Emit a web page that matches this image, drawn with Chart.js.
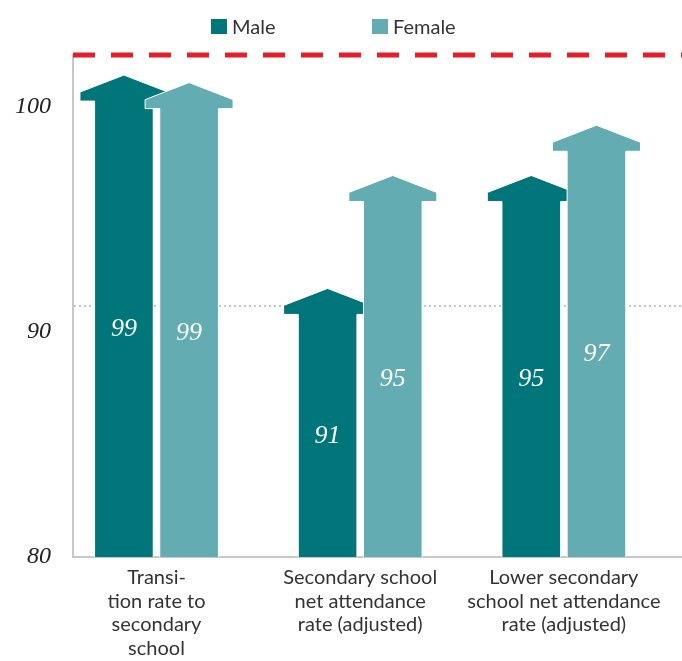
<!DOCTYPE html>
<html>
<head>
<meta charset="utf-8">
<script src="https://cdn.jsdelivr.net/npm/chart.js@4"></script>
<style>
  html, body { margin: 0; padding: 0; background: #fff; }
  #wrap { position: relative; width: 682px; height: 661px; }
  #legend {
    position: absolute; top: 14px; left: 211px;
    display: flex; font: 20px Lato, sans-serif; color: #333; line-height: 24px;
  }
  .item { display: flex; align-items: center; width: 161px; }
  .box { width: 16px; height: 15px; margin-right: 5px; }
</style>
</head>
<body>
<div id="wrap">
  <canvas id="chart" width="682" height="661"></canvas>
  <div id="legend"></div>
</div>
<script>
const categories = [
    ["Transi-", "tion rate to", "secondary", "school"],
    ["Secondary school", "net attendance", "rate (adjusted)"],
    ["Lower secondary", "school net attendance", "rate (adjusted)"]
];
const seriesNames = ["Male", "Female"];
const maleValues = [99.2, 90.7, 95.2];
const femaleValues = [98.9, 95.2, 97.2];
const yTicks = [80, 90, 100];
const targetValue = 100;

const maleColor = '#00767a';
const femaleColor = '#63acb2';

// legend built from the series names
const legend = document.getElementById("legend");
[maleColor, femaleColor].forEach((c, i) => {
    const item = document.createElement("div");
    item.className = "item";
    item.innerHTML = '<span class="box" style="background:' + c + '"></span><span>' + seriesNames[i] + '</span>';
    legend.appendChild(item);
});

// bars drawn as up arrows, value written inside the shaft
const arrowBars = {
    id: 'arrowBars',
    beforeDatasetDraw() {
        return false;
    },
    afterDatasetsDraw(chart) {
        const ctx = chart.ctx;
        const yScale = chart.scales.y;
        const bottom = yScale.getPixelForValue(yScale.min);
        const headH = 26;
        const sideH = 9;

        chart.data.datasets.forEach((ds, di) => {
            const meta = chart.getDatasetMeta(di);
            meta.data.forEach((bar, i) => {
                const { x, y, width } = bar.getProps(['x', 'y', 'width'], true);
                const half = width / 2;
                const hw = width * 0.75;
                const shoulder = y + headH;

                ctx.save();
                ctx.beginPath();
                ctx.moveTo(x - half, bottom);
                ctx.lineTo(x - half, shoulder);
                ctx.lineTo(x - hw, shoulder);
                ctx.lineTo(x - hw, shoulder - sideH);
                ctx.lineTo(x, y);
                ctx.lineTo(x + hw, shoulder - sideH);
                ctx.lineTo(x + hw, shoulder);
                ctx.lineTo(x + half, shoulder);
                ctx.lineTo(x + half, bottom);
                ctx.fillStyle = ds.backgroundColor;
                ctx.fill();
                ctx.strokeStyle = '#ffffff';
                ctx.lineWidth = 1;
                ctx.stroke();

                ctx.fillStyle = '#ffffff';
                ctx.font = 'italic 26px "Liberation Serif", serif';
                ctx.textAlign = 'center';
                ctx.textBaseline = 'middle';
                ctx.fillText(Math.round(ds.data[i]), x, (shoulder + bottom) / 2);
                ctx.restore();
            });
        });

        // red dashed target line
        const yPix = yScale.getPixelForValue(targetValue);
        ctx.save();
        ctx.strokeStyle = '#e3202a';
        ctx.lineWidth = 5;
        ctx.setLineDash([22, 16]);
        ctx.beginPath();
        ctx.moveTo(chart.chartArea.left, yPix);
        ctx.lineTo(chart.chartArea.right, yPix);
        ctx.stroke();
        ctx.restore();
    }
};

new Chart(document.getElementById("chart").getContext("2d"), {
    type: 'bar',
    data: {
        labels: categories.map((c, i) => i),
        datasets: [
            { label: seriesNames[0], data: maleValues, backgroundColor: maleColor },
            { label: seriesNames[1], data: femaleValues, backgroundColor: femaleColor }
        ]
    },
    options: {
        responsive: false,
        animation: false,
        categoryPercentage: 0.64,
        barPercentage: 0.9,
        layout: { padding: { top: 55, right: 0, left: 0, bottom: 0 } },
        plugins: {
            legend: { display: false },
            tooltip: { enabled: false }
        },
        scales: {
            x: {
                type: 'linear',
                min: -0.41,
                max: 2.58,
                offset: false,
                afterBuildTicks: s => { s.ticks = categories.map((c, i) => ({ value: i })); },
                afterFit: s => { s.height = 104; },
                ticks: {
                    autoSkip: false,
                    maxRotation: 0,
                    padding: 1,
                    color: '#333',
                    font: { family: 'Lato', size: 20, lineHeight: 1.18 },
                    callback: v => categories[v] || ''
                },
                grid: { display: false, offset: false },
                border: { color: '#c8c8c8', width: 2 }
            },
            y: {
                min: 80,
                max: 100,
                position: 'left',
                weight: 0,
                afterBuildTicks: s => { s.ticks = yTicks.map(v => ({ value: v })); },
                afterFit: s => { s.width = 0; },
                ticks: { display: false },
                grid: {
                    drawTicks: false,
                    lineWidth: 2,
                    color: c => c.tick && c.tick.value === 90 ? '#c4c4c4' : 'rgba(0,0,0,0)'
                },
                border: { color: '#c8c8c8', width: 2, dash: [2, 3] }
            },
            yLabels: {
                type: 'linear',
                min: 80,
                max: 102.3,
                position: 'left',
                weight: 1,
                afterBuildTicks: s => { s.ticks = yTicks.map(v => ({ value: v })); },
                afterFit: s => { s.width = 73; },
                ticks: {
                    padding: 22,
                    color: '#222',
                    font: { family: '"Liberation Serif", serif', size: 24, style: 'italic' }
                },
                grid: { display: false, drawTicks: false },
                border: { display: false }
            }
        }
    },
    plugins: [arrowBars]
});
</script>
</body>
</html>
